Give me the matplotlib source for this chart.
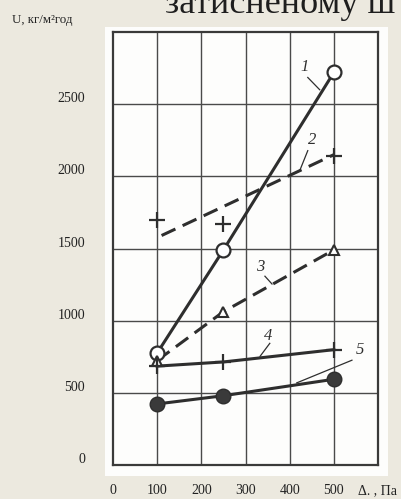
import matplotlib
matplotlib.use("Agg")
import matplotlib.pyplot as plt
import matplotlib.transforms as mtransforms
from matplotlib.patches import Rectangle

plt.rcParams['font.family'] = ['Liberation Serif', 'DejaVu Serif']

# pressure difference, Pa
x_ticks = [0, 100, 200, 300, 400, 500, 600]
x_ticklabels = ['0', '100', '200', '300', '400', '500', 'Δ. , Па']
y_ticks = [0, 500, 1000, 1500, 2000, 2500]
y_ticklabels = ['0', '500', '1000', '1500', '2000', '2500']

# curve 1 - open circles, solid
c1_x = [100, 250, 500]
c1_y = [776, 1490, 2720]
# curve 2 - crosses, dashed trend
c2_x = [100, 250, 500]
c2_y = [1700, 1670, 2140]
c2_line_x = [110, 500]
c2_line_y = [1590, 2150]
# curve 3 - triangles, dashed
c3_x = [100, 250, 500]
c3_y = [724, 1062, 1490]
# curve 4 - crosses, solid
c4_x = [100, 250, 500]
c4_y = [685, 714, 799]
# curve 5 - filled circles, solid
c5_x = [100, 250, 500]
c5_y = [423, 480, 594]

bg = '#ece9df'
ink = '#2e2e2e'

fig = plt.figure(figsize=(4.01, 4.99), dpi=100, facecolor=bg)
W, H = 401.0, 499.0

# white scanned sheet
fig.patches.append(Rectangle((105 / W, 1 - 476 / H), 283 / W, 449 / H,
                             transform=fig.transFigure, facecolor='#fdfdfc',
                             edgecolor='none', zorder=-5))

ax = fig.add_axes([113 / W, 1 - 465 / H, 265 / W, 433 / H])
ax.set_facecolor('#fdfdfc')
ax.set_xlim(0, 600)
ax.set_ylim(0, 3000)

for v in range(100, 600, 100):
    ax.axvline(v, color='#4a4a4a', lw=1.0, zorder=1)
for v in range(500, 3000, 500):
    ax.axhline(v, color='#4a4a4a', lw=1.0, zorder=1)
for s in ax.spines.values():
    s.set_color('#3a3a3a')
    s.set_linewidth(1.6)

ax.set_xticks(x_ticks)
ax.set_xticklabels(x_ticklabels, fontsize=10, color='#222222')
ax.set_yticks(y_ticks)
ax.set_yticklabels(y_ticklabels, fontsize=10, color='#222222')
ax.tick_params(axis='both', length=0)
ax.tick_params(axis='x', pad=14)
ax.tick_params(axis='y', pad=20)

# labels sit a little above their grid lines
up = mtransforms.ScaledTranslation(0, 7 / 100, fig.dpi_scale_trans)
for lab in ax.get_yticklabels():
    lab.set_transform(lab.get_transform() + up)

# curves
ax.plot(c1_x, c1_y, '-', color=ink, lw=2.2, zorder=3)
ax.plot(c1_x, c1_y, 'o', ms=10, mfc='white', mec=ink, mew=1.6, zorder=4, ls='none')

ax.plot(c2_line_x, c2_line_y, '--', color=ink, lw=2.2, dashes=(5, 2.6), zorder=3)
ax.plot(c2_x, c2_y, '+', ms=11, mec=ink, mew=1.6, ls='none', zorder=4)

ax.plot(c3_x, c3_y, '--', color=ink, lw=2.2, dashes=(5, 2.6), zorder=3)
ax.plot(c3_x, c3_y, '^', ms=7.5, mfc='white', mec=ink, mew=1.5, ls='none', zorder=4)

ax.plot(c4_x, c4_y, '-', color=ink, lw=2.2, zorder=3)
ax.plot(c4_x, c4_y, '+', ms=11, mec=ink, mew=1.6, ls='none', zorder=4)

ax.plot(c5_x, c5_y, '-', color=ink, lw=2.2, zorder=3)
ax.plot(c5_x, c5_y, 'o', ms=10.5, mfc='#3a3a3a', mec=ink, ls='none', zorder=4)

# curve numbers with leader lines
tags = [('1', (434, 2760), (441, 2685), (468, 2600)),
        ('2', (450, 2250), (441, 2178), (423, 2041)),
        ('3', (333, 1375), (344, 1308), (360, 1254)),
        ('4', (351, 895), (355, 843), (333, 753)),
        ('5', (559, 795), (541, 726), (416, 569))]
for t, (tx, ty), p0, p1 in tags:
    ax.text(tx, ty, t, fontsize=12, style='italic', color=ink,
            ha='center', va='center', zorder=5)
    ax.plot([p0[0], p1[0]], [p0[1], p1[1]], color=ink, lw=0.9, zorder=3)

fig.text(12 / W, 1 - 23 / H, 'U, кг/м²год', fontsize=9.3, color='#222222',
         ha='left', va='baseline')
fig.text(165 / W, 1 - 13 / H, 'затисненому ш', fontsize=26, color='#1e1e1e',
         ha='left', va='baseline')

fig.savefig('out.png', dpi=100, facecolor=bg)
